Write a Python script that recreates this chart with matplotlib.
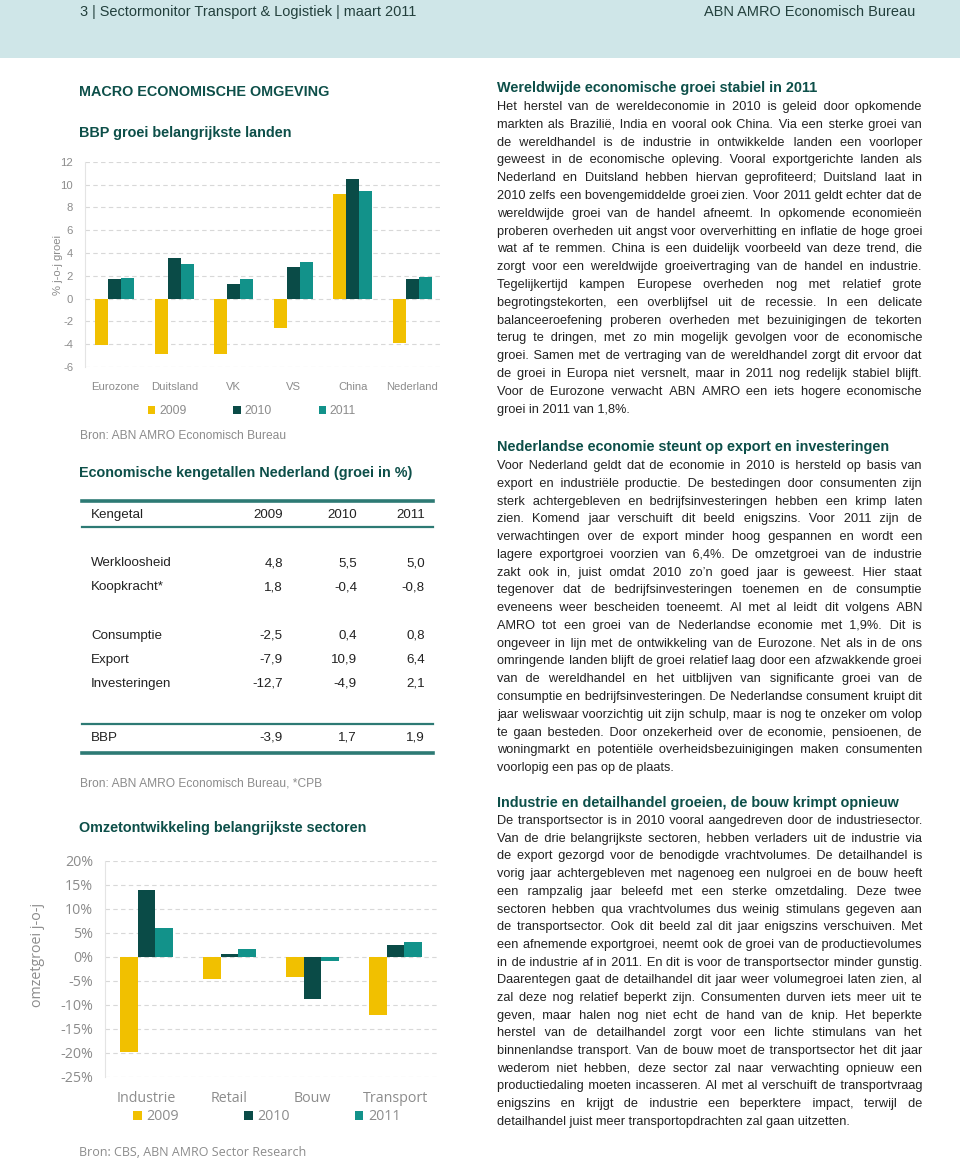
import matplotlib
matplotlib.use('Agg')
import matplotlib.pyplot as plt
from matplotlib import font_manager
from matplotlib.patches import Rectangle
from matplotlib.lines import Line2D
import numpy as np

W, H, DPI = 960, 1162, 100

# ---------------- data ----------------
years = ['2009', '2010', '2011']

countries = ['Eurozone', 'Duitsland', 'VK', 'VS', 'China', 'Nederland']
gdp_2009 = [-4.1, -4.9, -4.9, -2.6, 9.2, -3.9]
gdp_2010 = [1.7, 3.6, 1.3, 2.8, 10.5, 1.7]
gdp_2011 = [1.8, 3.0, 1.7, 3.2, 9.4, 1.9]
gdp_ticks = [-6, -4, -2, 0, 2, 4, 6, 8, 10, 12]

sectors = ['Industrie', 'Retail', 'Bouw', 'Transport']
sales_2009 = [-19.8, -4.7, -4.2, -12.2]
sales_2010 = [14.0, 0.5, -8.7, 2.5]
sales_2011 = [6.0, 1.6, -0.9, 3.0]
sales_ticks = [-25, -20, -15, -10, -5, 0, 5, 10, 15, 20]

table_header = ['Kengetal', '2009', '2010', '2011']
table_rows = ['Werkloosheid', 'Koopkracht*', 'Consumptie', 'Export', 'Investeringen', 'BBP']
table_2009 = [4.8, 1.8, -2.5, -7.9, -12.7, -3.9]
table_2010 = [5.5, -0.4, 0.4, 10.9, -4.9, 1.7]
table_2011 = [5.0, -0.8, 0.8, 6.4, 2.1, 1.9]

header_left = '3 | Sectormonitor Transport & Logistiek | maart 2011'
header_right = 'ABN AMRO Economisch Bureau'

sec1_title = 'Wereldwijde economische groei stabiel in 2011'
sec1_lines = [
    'Het herstel van de wereldeconomie in 2010 is geleid door opkomende',
    'markten als Brazilië, India en vooral ook China. Via een sterke groei van',
    'de wereldhandel is de industrie in ontwikkelde landen een voorloper',
    'geweest in de economische opleving. Vooral exportgerichte landen als',
    'Nederland en Duitsland hebben hiervan geprofiteerd; Duitsland laat in',
    '2010 zelfs een bovengemiddelde groei zien. Voor 2011 geldt echter dat de',
    'wereldwijde groei van de handel afneemt. In opkomende economieën',
    'proberen overheden uit angst voor oververhitting en inflatie de hoge groei',
    'wat af te remmen. China is een duidelijk voorbeeld van deze trend, die',
    'zorgt voor een wereldwijde groeivertraging van de handel en industrie.',
    'Tegelijkertijd kampen Europese overheden nog met relatief grote',
    'begrotingstekorten, een overblijfsel uit de recessie. In een delicate',
    'balanceeroefening proberen overheden met bezuinigingen de tekorten',
    'terug te dringen, met zo min mogelijk gevolgen voor de economische',
    'groei. Samen met de vertraging van de wereldhandel zorgt dit ervoor dat',
    'de groei in Europa niet versnelt, maar in 2011 nog redelijk stabiel blijft.',
    'Voor de Eurozone verwacht ABN AMRO een iets hogere economische',
    'groei in 2011 van 1,8%.',
]
sec2_title = 'Nederlandse economie steunt op export en investeringen'
sec2_lines = [
    'Voor Nederland geldt dat de economie in 2010 is hersteld op basis van',
    'export en industriële productie. De bestedingen door consumenten zijn',
    'sterk achtergebleven en bedrijfsinvesteringen hebben een krimp laten',
    'zien. Komend jaar verschuift dit beeld enigszins. Voor 2011 zijn de',
    'verwachtingen over de export minder hoog gespannen en wordt een',
    'lagere exportgroei voorzien van 6,4%. De omzetgroei van de industrie',
    'zakt ook in, juist omdat 2010 zo’n goed jaar is geweest. Hier staat',
    'tegenover dat de bedrijfsinvesteringen toenemen en de consumptie',
    'eveneens weer bescheiden toeneemt. Al met al leidt dit volgens ABN',
    'AMRO tot een groei van de Nederlandse economie met 1,9%. Dit is',
    'ongeveer in lijn met de ontwikkeling van de Eurozone. Net als in de ons',
    'omringende landen blijft de groei relatief laag door een afzwakkende groei',
    'van de wereldhandel en het uitblijven van significante groei van de',
    'consumptie en bedrijfsinvesteringen. De Nederlandse consument kruipt dit',
    'jaar weliswaar voorzichtig uit zijn schulp, maar is nog te onzeker om volop',
    'te gaan besteden. Door onzekerheid over de economie, pensioenen, de',
    'woningmarkt en potentiële overheidsbezuinigingen maken consumenten',
    'voorlopig een pas op de plaats.',
]
sec3_title = 'Industrie en detailhandel groeien, de bouw krimpt opnieuw'
sec3_lines = [
    'De transportsector is in 2010 vooral aangedreven door de industriesector.',
    'Van de drie belangrijkste sectoren, hebben verladers uit de industrie via',
    'de export gezorgd voor de benodigde vrachtvolumes. De detailhandel is',
    'vorig jaar achtergebleven met nagenoeg een nulgroei en de bouw heeft',
    'een rampzalig jaar beleefd met een sterke omzetdaling. Deze twee',
    'sectoren hebben qua vrachtvolumes dus weinig stimulans gegeven aan',
    'de transportsector. Ook dit beeld zal dit jaar enigszins verschuiven. Met',
    'een afnemende exportgroei, neemt ook de groei van de productievolumes',
    'in de industrie af in 2011. En dit is voor de transportsector minder gunstig.',
    'Daarentegen gaat de detailhandel dit jaar weer volumegroei laten zien, al',
    'zal deze nog relatief beperkt zijn. Consumenten durven iets meer uit te',
    'geven, maar halen nog niet echt de hand van de knip. Het beperkte',
    'herstel van de detailhandel zorgt voor een lichte stimulans van het',
    'binnenlandse transport. Van de bouw moet de transportsector het dit jaar',
    'wederom niet hebben, deze sector zal naar verwachting opnieuw een',
    'productiedaling moeten incasseren. Al met al verschuift de transportvraag',
    'enigszins en krijgt de industrie een beperktere impact, terwijl de',
    'detailhandel juist meer transportopdrachten zal gaan uitzetten.',
]

# ---------------- style ----------------
C2009, C2010, C2011 = '#f1c000', '#0a4b47', '#12928a'
TEAL = '#0d4f49'
GREY = '#8c8c8c'
BODY = '#222222'
BAND = '#cfe6e8'
RULE = '#2d7a74'

names = {f.name for f in font_manager.fontManager.ttflist}
NARROW = 'Liberation Sans Narrow' if 'Liberation Sans Narrow' in names else 'Liberation Sans'
SANS = 'Liberation Sans'
SANS_FB = ['Liberation Sans', 'DejaVu Sans']
WIDE = 'Open Sans' if 'Open Sans' in names else 'DejaVu Sans'

fig = plt.figure(figsize=(W / DPI, H / DPI), dpi=DPI)
fig.patch.set_facecolor('white')
renderer = fig.canvas.get_renderer()


def fx(px):
    return px / W


def fy(py):
    return 1 - py / H


def measure(s, size, **kw):
    t = fig.text(0, 0, s, fontsize=size, **kw)
    w = t.get_window_extent(renderer).width
    t.remove()
    return w


def fit(s, target, **kw):
    return 10.0 * target / measure(s, 10.0, **kw)


# font sizes fitted to the reference widths
fs_header = fit(header_right, 211, family=NARROW)
fs_head = fit('Economische kengetallen Nederland (groei in %)', 334, family=SANS, weight='bold')
fs_rhead = fit(sec2_title, 395, family=SANS, weight='bold')
fs_body = fit(sec3_lines[-1], 355, family=SANS)
fs_table = fit('Werkloosheid', 81, family=SANS)
fs_src = fit('Bron: ABN AMRO Economisch Bureau', 206, family=SANS)
fs_top = fit('Nederland', 52, family=NARROW)
fs_bot = fit('Transport', 65, family=WIDE)
fs_bsrc = fit('Bron: CBS, ABN AMRO Sector Research', 226, family=WIDE)

# ---------------- header band ----------------
fig.add_artist(Rectangle((0, fy(58)), 1, 58 / H, transform=fig.transFigure,
                         facecolor=BAND, edgecolor='none', zorder=0))
fig.text(fx(80), fy(12), header_left, family=NARROW, fontsize=fs_header,
         color='#23403d', ha='left', va='center')
fig.text(fx(915), fy(12), header_right, family=NARROW, fontsize=fs_header,
         color='#23403d', ha='right', va='center')

# ---------------- left column headings ----------------
fig.text(fx(79), fy(92), 'MACRO ECONOMISCHE OMGEVING', family=SANS, weight='bold',
         fontsize=fs_head, color=TEAL, va='center')
fig.text(fx(79), fy(133), 'BBP groei belangrijkste landen', family=SANS, weight='bold',
         fontsize=fs_head, color=TEAL, va='center')

# ---------------- top chart ----------------
ax1 = fig.add_axes([fx(85), fy(367), fx(442) - fx(85), fy(161.7) - fy(367)])
x = np.arange(len(countries))
bw = 0.22
b1 = ax1.bar(x - bw, gdp_2009, bw, color=C2009, label=years[0], zorder=3)
b2 = ax1.bar(x, gdp_2010, bw, color=C2010, label=years[1], zorder=3)
b3 = ax1.bar(x + bw, gdp_2011, bw, color=C2011, label=years[2], zorder=3)
ax1.set_xlim(-0.5, len(countries) - 0.5)
ax1.set_ylim(-6, 12)
ax1.set_yticks(gdp_ticks)
ax1.set_yticklabels([str(t) for t in gdp_ticks])
ax1.set_xticks(x)
ax1.set_xticklabels(countries)
ax1.yaxis.grid(True, linestyle=(0, (4, 3)), color='#d8d8d8', lw=0.8)
ax1.set_axisbelow(True)
for s in ['top', 'right', 'bottom']:
    ax1.spines[s].set_visible(False)
ax1.spines['left'].set_color('#e4e4e4')
ax1.tick_params(axis='both', length=0, labelsize=fs_top, labelcolor=GREY)
ax1.tick_params(axis='y', pad=8.5)
ax1.tick_params(axis='x', pad=11)
for lab in ax1.get_xticklabels() + ax1.get_yticklabels():
    lab.set_family(NARROW)
ax1.set_ylabel('% j-o-j groei', family=NARROW, fontsize=fs_top, color=GREY)
ax1.yaxis.set_label_coords((63 - 85) / 357, (367 - 265) / 205.3)

fs_px = fs_top * DPI / 72
tw = measure('2009', fs_top, family=NARROW)
cs = (79 - (0.6 * fs_px + 0.3 * fs_px + tw)) / fs_px
ax1.legend(handles=[b1, b2, b3], labels=years, loc='center',
           bbox_to_anchor=(fx(252), fy(411)), bbox_transform=fig.transFigure,
           ncol=3, frameon=False, handlelength=0.6, handleheight=0.6,
           handletextpad=0.3, columnspacing=cs, borderpad=0,
           prop={'family': NARROW, 'size': fs_top * 1.08}, labelcolor=GREY)

fig.text(fx(80), fy(436), 'Bron: ABN AMRO Economisch Bureau', family=SANS,
         fontsize=fs_src, color=GREY, va='center')

# ---------------- table ----------------
fig.text(fx(79), fy(473), 'Economische kengetallen Nederland (groei in %)', family=SANS,
         weight='bold', fontsize=fs_head, color=TEAL, va='center')

for ypx, lw in [(501, 2.6), (527, 1.6), (724, 1.6), (753, 2.6)]:
    fig.add_artist(Line2D([fx(82), fx(433)], [fy(ypx), fy(ypx)], transform=fig.transFigure,
                          color=RULE, lw=lw))

col_x = [91, 283, 357, 425]
fig.text(fx(col_x[0]), fy(515), table_header[0], family=SANS, fontsize=fs_table,
         color=BODY, ha='left', va='center')
for cx, hdr in zip(col_x[1:], table_header[1:]):
    fig.text(fx(cx), fy(515), hdr, family=SANS, fontsize=fs_table, color=BODY,
             ha='right', va='center')

row_y = [563, 587, 636, 660, 684, 738]


def fmt(v):
    return f'{v:.1f}'.replace('.', ',')


for ry, name, v1, v2, v3 in zip(row_y, table_rows, table_2009, table_2010, table_2011):
    fig.text(fx(col_x[0]), fy(ry), name, family=SANS, fontsize=fs_table, color=BODY,
             ha='left', va='center')
    for cx, v in zip(col_x[1:], [v1, v2, v3]):
        fig.text(fx(cx), fy(ry), fmt(v), family=SANS, fontsize=fs_table, color=BODY,
                 ha='right', va='center')

fig.text(fx(80), fy(783), 'Bron: ABN AMRO Economisch Bureau, *CPB', family=SANS,
         fontsize=fs_src, color=GREY, va='center')

fig.text(fx(79), fy(828), 'Omzetontwikkeling belangrijkste sectoren', family=SANS,
         weight='bold', fontsize=fs_head, color=TEAL, va='center')

# ---------------- bottom chart ----------------
ax2 = fig.add_axes([fx(105), fy(1077), fx(437) - fx(105), fy(860.7) - fy(1077)])
xs = np.arange(len(sectors))
bw2 = 0.213
c1 = ax2.bar(xs - bw2, sales_2009, bw2, color=C2009, zorder=3)
c2 = ax2.bar(xs, sales_2010, bw2, color=C2010, zorder=3)
c3 = ax2.bar(xs + bw2, sales_2011, bw2, color=C2011, zorder=3)
ax2.set_xlim(-0.5, len(sectors) - 0.5)
ax2.set_ylim(-25, 20)
ax2.set_yticks(sales_ticks)
ax2.set_yticklabels([f'{t}%' for t in sales_ticks])
ax2.set_xticks(xs)
ax2.set_xticklabels(sectors)
ax2.yaxis.grid(True, linestyle=(0, (4, 3)), color='#d8d8d8', lw=0.8)
ax2.set_axisbelow(True)
for s in ['top', 'right', 'bottom']:
    ax2.spines[s].set_visible(False)
ax2.spines['left'].set_color('#e4e4e4')
ax2.tick_params(axis='both', length=0, labelsize=fs_bot, labelcolor=GREY)
ax2.tick_params(axis='y', pad=8.5)
ax2.tick_params(axis='x', pad=10)
for lab in ax2.get_xticklabels() + ax2.get_yticklabels():
    lab.set_family(WIDE)
ax2.set_ylabel('omzetgroei j-o-j', family=WIDE, fontsize=fs_bot, color=GREY)
ax2.yaxis.set_label_coords((45 - 105) / 332, (1077 - 955) / 216.3)

fs2_px = fs_bot * DPI / 72
tw2 = measure('2009', fs_bot, family=WIDE)
cs2 = (111 - (0.6 * fs2_px + 0.35 * fs2_px + tw2)) / fs2_px
ax2.legend(handles=[c1, c2, c3], labels=years, loc='center',
           bbox_to_anchor=(fx(267), fy(1117)), bbox_transform=fig.transFigure,
           ncol=3, frameon=False, handlelength=0.6, handleheight=0.6,
           handletextpad=0.35, columnspacing=cs2, borderpad=0,
           prop={'family': WIDE, 'size': fs_bot}, labelcolor=GREY)

fig.text(fx(79), fy(1153), 'Bron: CBS, ABN AMRO Sector Research', family=WIDE,
         fontsize=fs_bsrc, color=GREY, va='center')

# ---------------- right column text (justified, one text object per line) ----------------
X0, X1 = 497, 922
HAIR = '\u200a'
THIN = '\u2009'
w_aa = measure('aa', fs_body, family=SANS_FB)
w_space = measure('a a', fs_body, family=SANS_FB) - w_aa
w_hair = max(measure('a' + HAIR * 4 + 'a', fs_body, family=SANS_FB) - w_aa, 0.4) / 4
w_thin = measure('a' + THIN + 'a', fs_body, family=SANS_FB) - w_aa


def justify(line):
    words = line.split(' ')
    widths = [measure(w, fs_body, family=SANS_FB) for w in words]
    gap = (X1 - X0 - sum(widths)) / max(len(words) - 1, 1)
    out = words[0]
    cur = widths[0]
    ideal = widths[0]
    for w, wd in zip(words[1:], widths[1:]):
        ideal += gap
        need = ideal - cur
        if need >= w_space:
            n = int(round((need - w_space) / w_hair))
            sep = ' ' + HAIR * n
            cur += w_space + n * w_hair
        else:
            sep = THIN
            cur += w_thin
        out += sep + w
        cur += wd
        ideal += wd
    return out


def paragraph(title, lines, y_title, y_first, dy):
    fig.text(fx(X0), fy(y_title), title, family=SANS, weight='bold', fontsize=fs_rhead,
             color=TEAL, ha='left', va='center')
    for i, line in enumerate(lines):
        s = line if i == len(lines) - 1 else justify(line)
        fig.text(fx(X0), fy(y_first + i * dy), s, family=SANS_FB, fontsize=fs_body,
                 color=BODY, ha='left', va='center')


paragraph(sec1_title, sec1_lines, 88, 107, 17.8)
paragraph(sec2_title, sec2_lines, 447, 466, 17.77)
paragraph(sec3_title, sec3_lines, 803, 821, 17.7)

fig.savefig('out.png', dpi=DPI, facecolor='white')
